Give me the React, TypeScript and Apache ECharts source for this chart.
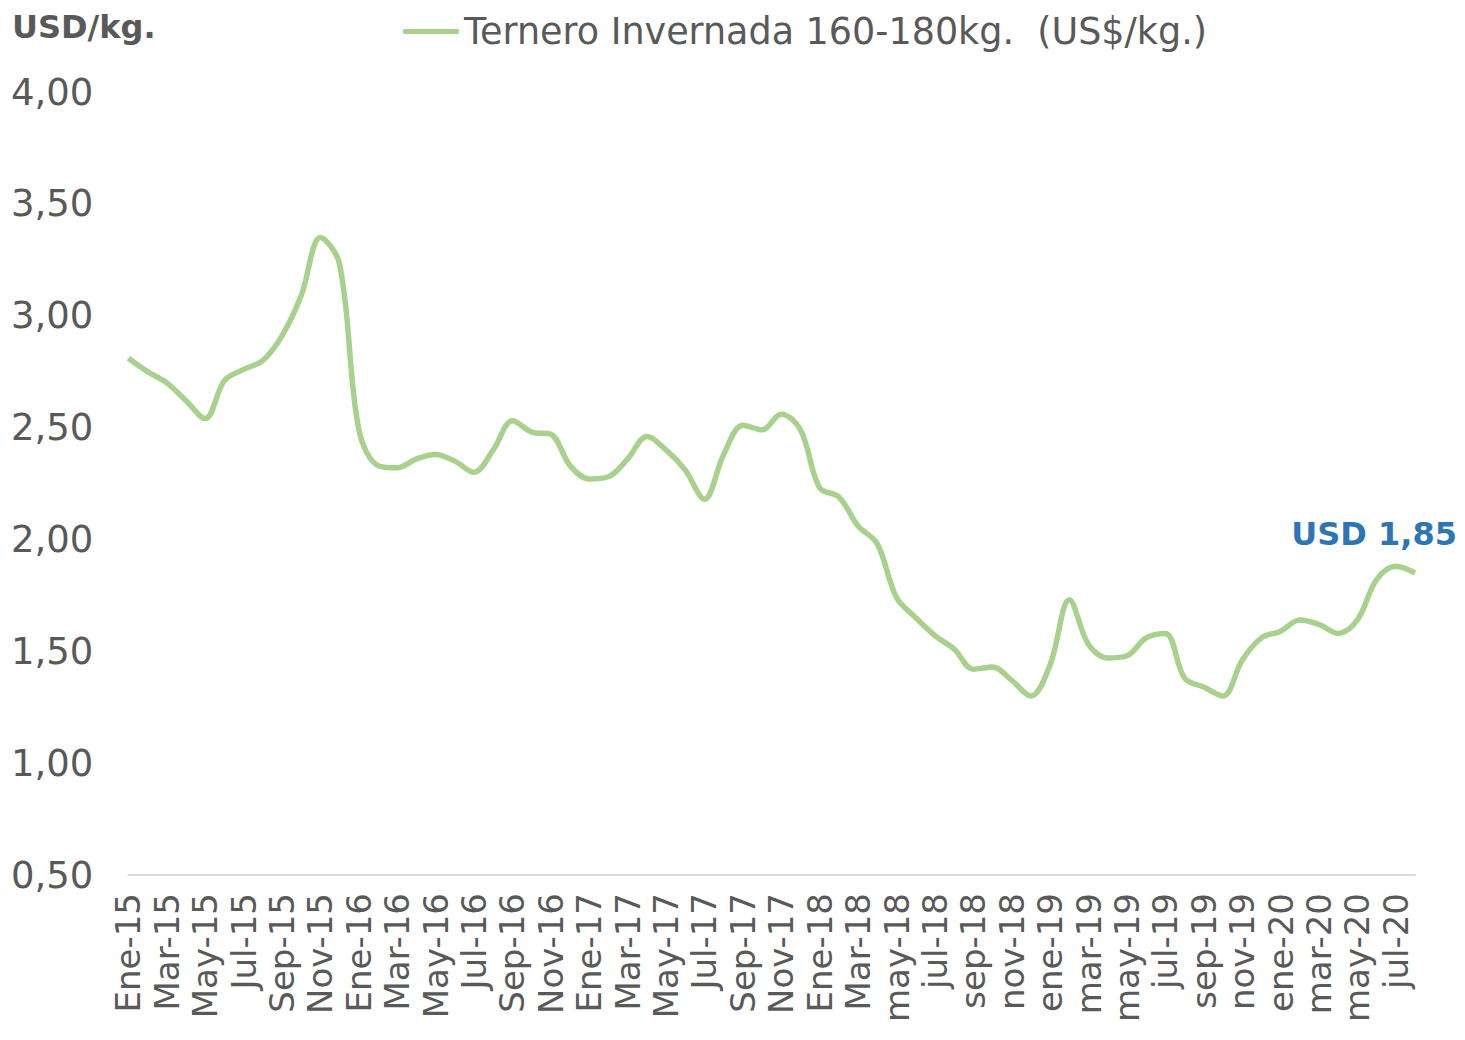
import React, { useEffect, useRef } from "react";
import * as echarts from "echarts";

const categories: string[] = [
  "Ene-15","Feb-15","Mar-15","Abr-15","May-15","Jun-15","Jul-15","Ago-15","Sep-15","Oct-15","Nov-15","Dic-15",
  "Ene-16","Feb-16","Mar-16","Abr-16","May-16","Jun-16","Jul-16","Ago-16","Sep-16","Oct-16","Nov-16","Dic-16",
  "Ene-17","Feb-17","Mar-17","Abr-17","May-17","Jun-17","Jul-17","Ago-17","Sep-17","Oct-17","Nov-17","Dic-17",
  "Ene-18","Feb-18","Mar-18","Abr-18","may-18","jun-18","jul-18","ago-18","sep-18","oct-18","nov-18","dic-18",
  "ene-19","feb-19","mar-19","abr-19","may-19","jun-19","jul-19","ago-19","sep-19","oct-19","nov-19","dic-19",
  "ene-20","feb-20","mar-20","abr-20","may-20","jun-20","jul-20","ago-20",
];

const ternero: number[] = [
  2.81, 2.75, 2.70, 2.62, 2.54, 2.71, 2.76, 2.80, 2.91, 3.09, 3.35, 3.23,
  2.49, 2.33, 2.32, 2.36, 2.38, 2.35, 2.30, 2.40, 2.53, 2.48, 2.47, 2.33,
  2.27, 2.28, 2.36, 2.46, 2.40, 2.31, 2.18, 2.38, 2.51, 2.49, 2.56, 2.49,
  2.23, 2.19, 2.06, 1.98, 1.74, 1.65, 1.57, 1.51, 1.42, 1.43, 1.37, 1.30,
  1.44, 1.73, 1.53, 1.47, 1.48, 1.56, 1.58, 1.38, 1.34, 1.30, 1.46, 1.56,
  1.59, 1.64, 1.62, 1.58, 1.64, 1.82, 1.88, 1.85,
];

const seriesName = "Ternero Invernada 160-180kg.  (US$/kg.)";
const yTitle = "USD/kg.";
const lastLabel = "USD 1,85";

const FONT = "'DejaVu Sans', sans-serif";
const GRAY = "#595959";

export default function App() {
  const ref = useRef<HTMLDivElement>(null);
  useEffect(() => {
    if (!ref.current) return;
    const chart = echarts.init(ref.current, null, { renderer: "svg" });
    chart.setOption({
      animation: false,
      textStyle: { fontFamily: FONT },
      grid: { left: 120, right: 42, top: 84, bottom: 157, containLabel: false },
      legend: {
        data: [seriesName],
        top: 0,
        left: 390,
        icon: "roundRect",
        itemWidth: 56,
        itemHeight: 5,
        itemGap: 4,
        textStyle: { fontSize: 36.5, color: GRAY, fontFamily: FONT },
      },
      graphic: [
        {
          type: "text",
          left: 4,
          top: 3,
          style: { text: yTitle, fontSize: 32, fontWeight: "bold", fill: GRAY, fontFamily: FONT },
        },
        {
          type: "text",
          right: 0,
          top: 510,
          style: { text: lastLabel, fontSize: 32, fontWeight: "bold", fill: "#2e75b6", fontFamily: FONT },
        },
      ],
      xAxis: {
        type: "category",
        data: categories,
        boundaryGap: false,
        axisLine: { show: true, lineStyle: { color: "#d9d9d9", width: 2 } },
        axisTick: { show: false },
        axisLabel: {
          interval: 1,
          rotate: 90,
          fontSize: 34,
          color: GRAY,
          margin: 18,
          fontFamily: FONT,
        },
      },
      yAxis: {
        type: "value",
        min: 0.5,
        max: 4,
        interval: 0.5,
        splitLine: { show: false },
        axisLine: { show: false },
        axisTick: { show: false },
        axisLabel: {
          fontSize: 37,
          color: GRAY,
          margin: 35,
          fontFamily: FONT,
          formatter: (v: number) => v.toFixed(2).replace(".", ","),
        },
      },
      series: [
        {
          name: seriesName,
          type: "line",
          data: ternero,
          smooth: 0.35,
          symbol: "none",
          lineStyle: { color: "#a9d18e", width: 5.5 },
          itemStyle: { color: "#a9d18e" },
        },
      ],
    });
    return () => chart.dispose();
  }, []);
  return <div ref={ref} style={{ width: 1449, height: 1024 }} />;
}
